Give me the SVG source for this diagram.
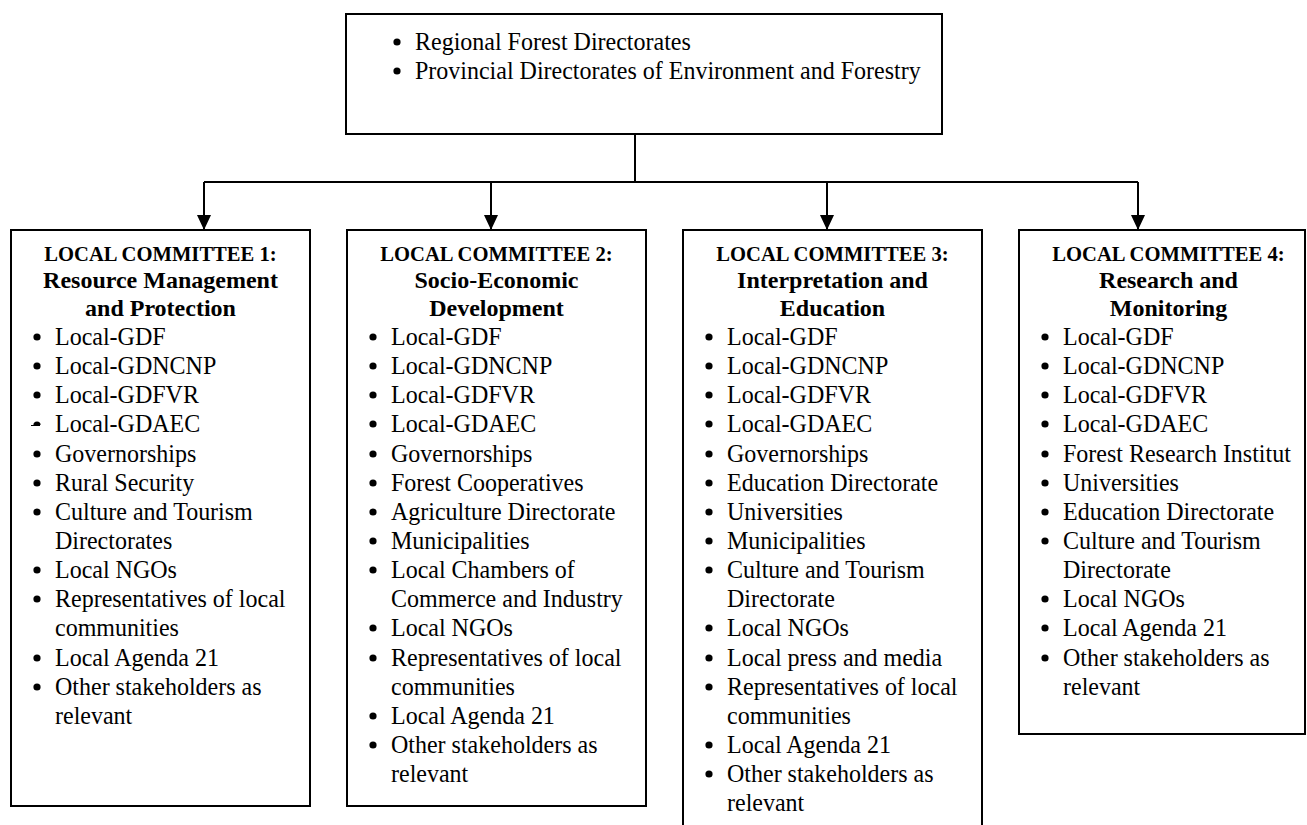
<svg xmlns="http://www.w3.org/2000/svg" width="1307" height="825" viewBox="0 0 1307 825">
<defs>
<style>
.box{fill:#fff;stroke:#000;stroke-width:2}
.t,.h1,.h2{font-family:"Liberation Serif","Times New Roman",serif;fill:#000}
.t{font-size:24px;transform-box:fill-box;transform-origin:0 100%;transform:scaleY(1.07)}
.h1{font-size:20.6px;font-weight:bold;text-anchor:middle}
.h2{font-size:24px;font-weight:bold;text-anchor:middle}
.ln{fill:none;stroke:#000;stroke-width:2}
.b{fill:#000}
</style>
<marker id="ah" viewBox="0 0 15 14" refX="15" refY="7" markerWidth="15" markerHeight="14" markerUnits="userSpaceOnUse" orient="auto">
<path d="M0,0 L15,7 L0,14 Z" fill="#000"/>
</marker>
</defs>
<rect width="1307" height="825" fill="#fff"/>

<g id="top">
<rect class="box" x="346" y="14" width="596" height="120"/>
<circle class="b" cx="397" cy="42" r="3.6"/>
<text class="t" x="415" y="50">Regional Forest Directorates</text>
<circle class="b" cx="397" cy="71" r="3.6"/>
<text class="t" x="415" y="79">Provincial Directorates of Environment and Forestry</text>
</g>

<g id="connectors">
<path class="ln" d="M635,134 V182"/>
<path class="ln" d="M204,182 H1138"/>
<path class="ln" d="M204,182 V230" marker-end="url(#ah)"/>
<path class="ln" d="M491,182 V230" marker-end="url(#ah)"/>
<path class="ln" d="M827,182 V230" marker-end="url(#ah)"/>
<path class="ln" d="M1138,182 V230" marker-end="url(#ah)"/>
</g>

<g id="committee1">
<rect class="box" x="11" y="230" width="299" height="576"/>
<text class="h1" x="160.5" y="261">LOCAL COMMITTEE 1:</text>
<text class="h2" x="160.5" y="288">Resource Management</text>
<text class="h2" x="160.5" y="316">and Protection</text>
<circle class="b" cx="37" cy="337" r="3.6"/><text class="t" x="55" y="345">Local-GDF</text>
<circle class="b" cx="37" cy="366" r="3.6"/><text class="t" x="55" y="374">Local-GDNCNP</text>
<circle class="b" cx="37" cy="395" r="3.6"/><text class="t" x="55" y="403">Local-GDFVR</text>
<path class="b" d="M33.4,425 a3.6,3.6 0 0 1 7.2,0 z"/><path d="M31,425.5 H40" stroke="#000" stroke-width="1"/><text class="t" x="55" y="432">Local-GDAEC</text>
<circle class="b" cx="37" cy="454" r="3.6"/><text class="t" x="55" y="462">Governorships</text>
<circle class="b" cx="37" cy="483" r="3.6"/><text class="t" x="55" y="491">Rural Security</text>
<circle class="b" cx="37" cy="512" r="3.6"/><text class="t" x="55" y="520">Culture and Tourism</text>
<text class="t" x="55" y="549">Directorates</text>
<circle class="b" cx="37" cy="570" r="3.6"/><text class="t" x="55" y="578">Local NGOs</text>
<circle class="b" cx="37" cy="599" r="3.6"/><text class="t" x="55" y="607">Representatives of local</text>
<text class="t" x="55" y="636">communities</text>
<circle class="b" cx="37" cy="658" r="3.6"/><text class="t" x="55" y="666">Local Agenda 21</text>
<circle class="b" cx="37" cy="687" r="3.6"/><text class="t" x="55" y="695">Other stakeholders as</text>
<text class="t" x="55" y="724">relevant</text>
</g>

<g id="committee2">
<rect class="box" x="347" y="230" width="299" height="576"/>
<text class="h1" x="496.5" y="261">LOCAL COMMITTEE 2:</text>
<text class="h2" x="496.5" y="288">Socio-Economic</text>
<text class="h2" x="496.5" y="316">Development</text>
<circle class="b" cx="373" cy="337" r="3.6"/><text class="t" x="391" y="345">Local-GDF</text>
<circle class="b" cx="373" cy="366" r="3.6"/><text class="t" x="391" y="374">Local-GDNCNP</text>
<circle class="b" cx="373" cy="395" r="3.6"/><text class="t" x="391" y="403">Local-GDFVR</text>
<circle class="b" cx="373" cy="424" r="3.6"/><text class="t" x="391" y="432">Local-GDAEC</text>
<circle class="b" cx="373" cy="454" r="3.6"/><text class="t" x="391" y="462">Governorships</text>
<circle class="b" cx="373" cy="483" r="3.6"/><text class="t" x="391" y="491">Forest Cooperatives</text>
<circle class="b" cx="373" cy="512" r="3.6"/><text class="t" x="391" y="520">Agriculture Directorate</text>
<circle class="b" cx="373" cy="541" r="3.6"/><text class="t" x="391" y="549">Municipalities</text>
<circle class="b" cx="373" cy="570" r="3.6"/><text class="t" x="391" y="578">Local Chambers of</text>
<text class="t" x="391" y="607">Commerce and Industry</text>
<circle class="b" cx="373" cy="628" r="3.6"/><text class="t" x="391" y="636">Local NGOs</text>
<circle class="b" cx="373" cy="658" r="3.6"/><text class="t" x="391" y="666">Representatives of local</text>
<text class="t" x="391" y="695">communities</text>
<circle class="b" cx="373" cy="716" r="3.6"/><text class="t" x="391" y="724">Local Agenda 21</text>
<circle class="b" cx="373" cy="745" r="3.6"/><text class="t" x="391" y="753">Other stakeholders as</text>
<text class="t" x="391" y="782">relevant</text>
</g>

<g id="committee3">
<rect class="box" x="683" y="230" width="299" height="620"/>
<text class="h1" x="832.5" y="261">LOCAL COMMITTEE 3:</text>
<text class="h2" x="832.5" y="288">Interpretation and</text>
<text class="h2" x="832.5" y="316">Education</text>
<circle class="b" cx="709" cy="337" r="3.6"/><text class="t" x="727" y="345">Local-GDF</text>
<circle class="b" cx="709" cy="366" r="3.6"/><text class="t" x="727" y="374">Local-GDNCNP</text>
<circle class="b" cx="709" cy="395" r="3.6"/><text class="t" x="727" y="403">Local-GDFVR</text>
<circle class="b" cx="709" cy="424" r="3.6"/><text class="t" x="727" y="432">Local-GDAEC</text>
<circle class="b" cx="709" cy="454" r="3.6"/><text class="t" x="727" y="462">Governorships</text>
<circle class="b" cx="709" cy="483" r="3.6"/><text class="t" x="727" y="491">Education Directorate</text>
<circle class="b" cx="709" cy="512" r="3.6"/><text class="t" x="727" y="520">Universities</text>
<circle class="b" cx="709" cy="541" r="3.6"/><text class="t" x="727" y="549">Municipalities</text>
<circle class="b" cx="709" cy="570" r="3.6"/><text class="t" x="727" y="578">Culture and Tourism</text>
<text class="t" x="727" y="607">Directorate</text>
<circle class="b" cx="709" cy="628" r="3.6"/><text class="t" x="727" y="636">Local NGOs</text>
<circle class="b" cx="709" cy="658" r="3.6"/><text class="t" x="727" y="666">Local press and media</text>
<circle class="b" cx="709" cy="687" r="3.6"/><text class="t" x="727" y="695">Representatives of local</text>
<text class="t" x="727" y="724">communities</text>
<circle class="b" cx="709" cy="745" r="3.6"/><text class="t" x="727" y="753">Local Agenda 21</text>
<circle class="b" cx="709" cy="774" r="3.6"/><text class="t" x="727" y="782">Other stakeholders as</text>
<text class="t" x="727" y="811">relevant</text>
</g>

<g id="committee4">
<rect class="box" x="1019" y="230" width="286" height="504"/>
<text class="h1" x="1168.5" y="261">LOCAL COMMITTEE 4:</text>
<text class="h2" x="1168.5" y="288">Research and</text>
<text class="h2" x="1168.5" y="316">Monitoring</text>
<circle class="b" cx="1045" cy="337" r="3.6"/><text class="t" x="1063" y="345">Local-GDF</text>
<circle class="b" cx="1045" cy="366" r="3.6"/><text class="t" x="1063" y="374">Local-GDNCNP</text>
<circle class="b" cx="1045" cy="395" r="3.6"/><text class="t" x="1063" y="403">Local-GDFVR</text>
<circle class="b" cx="1045" cy="424" r="3.6"/><text class="t" x="1063" y="432">Local-GDAEC</text>
<circle class="b" cx="1045" cy="454" r="3.6"/><text class="t" x="1063" y="462">Forest Research Institut</text>
<circle class="b" cx="1045" cy="483" r="3.6"/><text class="t" x="1063" y="491">Universities</text>
<circle class="b" cx="1045" cy="512" r="3.6"/><text class="t" x="1063" y="520">Education Directorate</text>
<circle class="b" cx="1045" cy="541" r="3.6"/><text class="t" x="1063" y="549">Culture and Tourism</text>
<text class="t" x="1063" y="578">Directorate</text>
<circle class="b" cx="1045" cy="599" r="3.6"/><text class="t" x="1063" y="607">Local NGOs</text>
<circle class="b" cx="1045" cy="628" r="3.6"/><text class="t" x="1063" y="636">Local Agenda 21</text>
<circle class="b" cx="1045" cy="658" r="3.6"/><text class="t" x="1063" y="666">Other stakeholders as</text>
<text class="t" x="1063" y="695">relevant</text>
</g>
</svg>
